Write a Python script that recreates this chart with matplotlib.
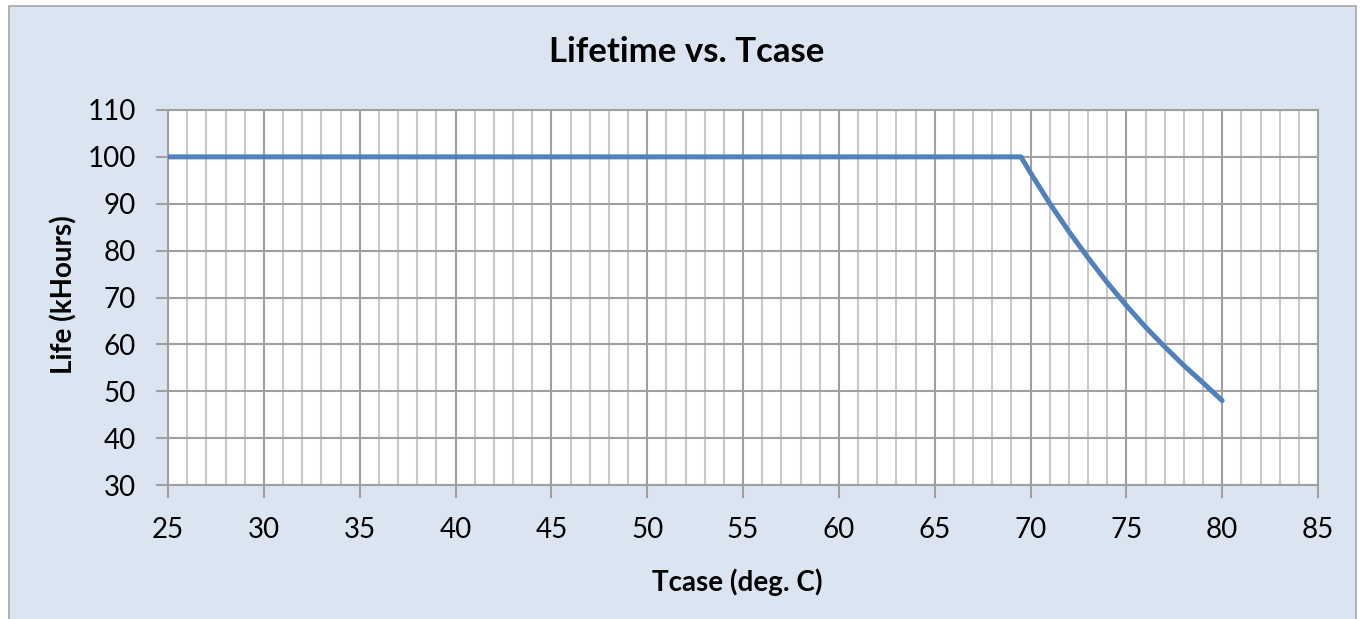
import matplotlib
matplotlib.use("Agg")
import matplotlib.pyplot as plt
from matplotlib.patches import Rectangle
from matplotlib.ticker import MultipleLocator

tcase = [25, 69.5, 70, 71, 72, 73, 74, 75, 76, 77, 78, 79, 80]
life = [100, 100, 96.6, 90.1, 84.1, 78.5, 73.2, 68.3, 63.7, 59.5, 55.5, 51.8, 48.0]

title = "Lifetime vs. Tcase"
xlabel = "Tcase (deg. C)"
ylabel = "Life (kHours)"

plt.rcParams['font.family'] = ['Lato', 'DejaVu Sans']

W, H = 1364, 619
fig = plt.figure(figsize=(W / 100, H / 100), dpi=100)
fig.patch.set_facecolor('white')
bg = '#DBE5F1'
fig.patches.append(Rectangle((9 / W, -0.05), (1356 - 9) / W, 1 - 6 / H + 0.05,
                             transform=fig.transFigure, facecolor=bg,
                             edgecolor='#A6A6A6', linewidth=1.2, zorder=-10))

left, right, top, bottom = 168, 1318, 110, 485
ax = fig.add_axes([left / W, 1 - bottom / H, (right - left) / W, (bottom - top) / H])
ax.set_zorder(1)
ax.set_facecolor('white')

ax.plot(tcase, life, color='#4F81BD', linewidth=3.6, solid_capstyle='round', zorder=3)

ax.set_xlim(25, 85)
ax.set_ylim(30, 110)
ax.xaxis.set_major_locator(MultipleLocator(5))
ax.xaxis.set_minor_locator(MultipleLocator(1))
ax.yaxis.set_major_locator(MultipleLocator(10))

ax.grid(which='minor', axis='x', color='#C8C8C8', linewidth=1.5)
ax.grid(which='major', axis='x', color='#A0A0A0', linewidth=1.5)
ax.grid(which='major', axis='y', color='#A0A0A0', linewidth=1.5)
ax.set_axisbelow(True)

for s in ax.spines.values():
    s.set_color('#A0A0A0')
    s.set_linewidth(1.5)

ax.tick_params(axis='both', which='major', direction='out', length=9, width=1.5,
               color='#A0A0A0', labelsize=20, labelcolor='black')
ax.tick_params(axis='x', which='major', pad=14)
ax.tick_params(axis='y', which='major', pad=14)
ax.tick_params(axis='x', which='minor', length=0)

fig.text(687 / W, 1 - 52 / H, title, ha='center', va='center', fontsize=25, fontweight='bold')
fig.text(737 / W, 1 - 582 / H, xlabel, ha='center', va='center', fontsize=20, fontweight='bold')
fig.text(64 / W, 1 - 295 / H, ylabel, ha='center', va='center', fontsize=20, fontweight='bold',
         rotation=90)

fig.savefig('out.png', dpi=100, facecolor=fig.get_facecolor())
